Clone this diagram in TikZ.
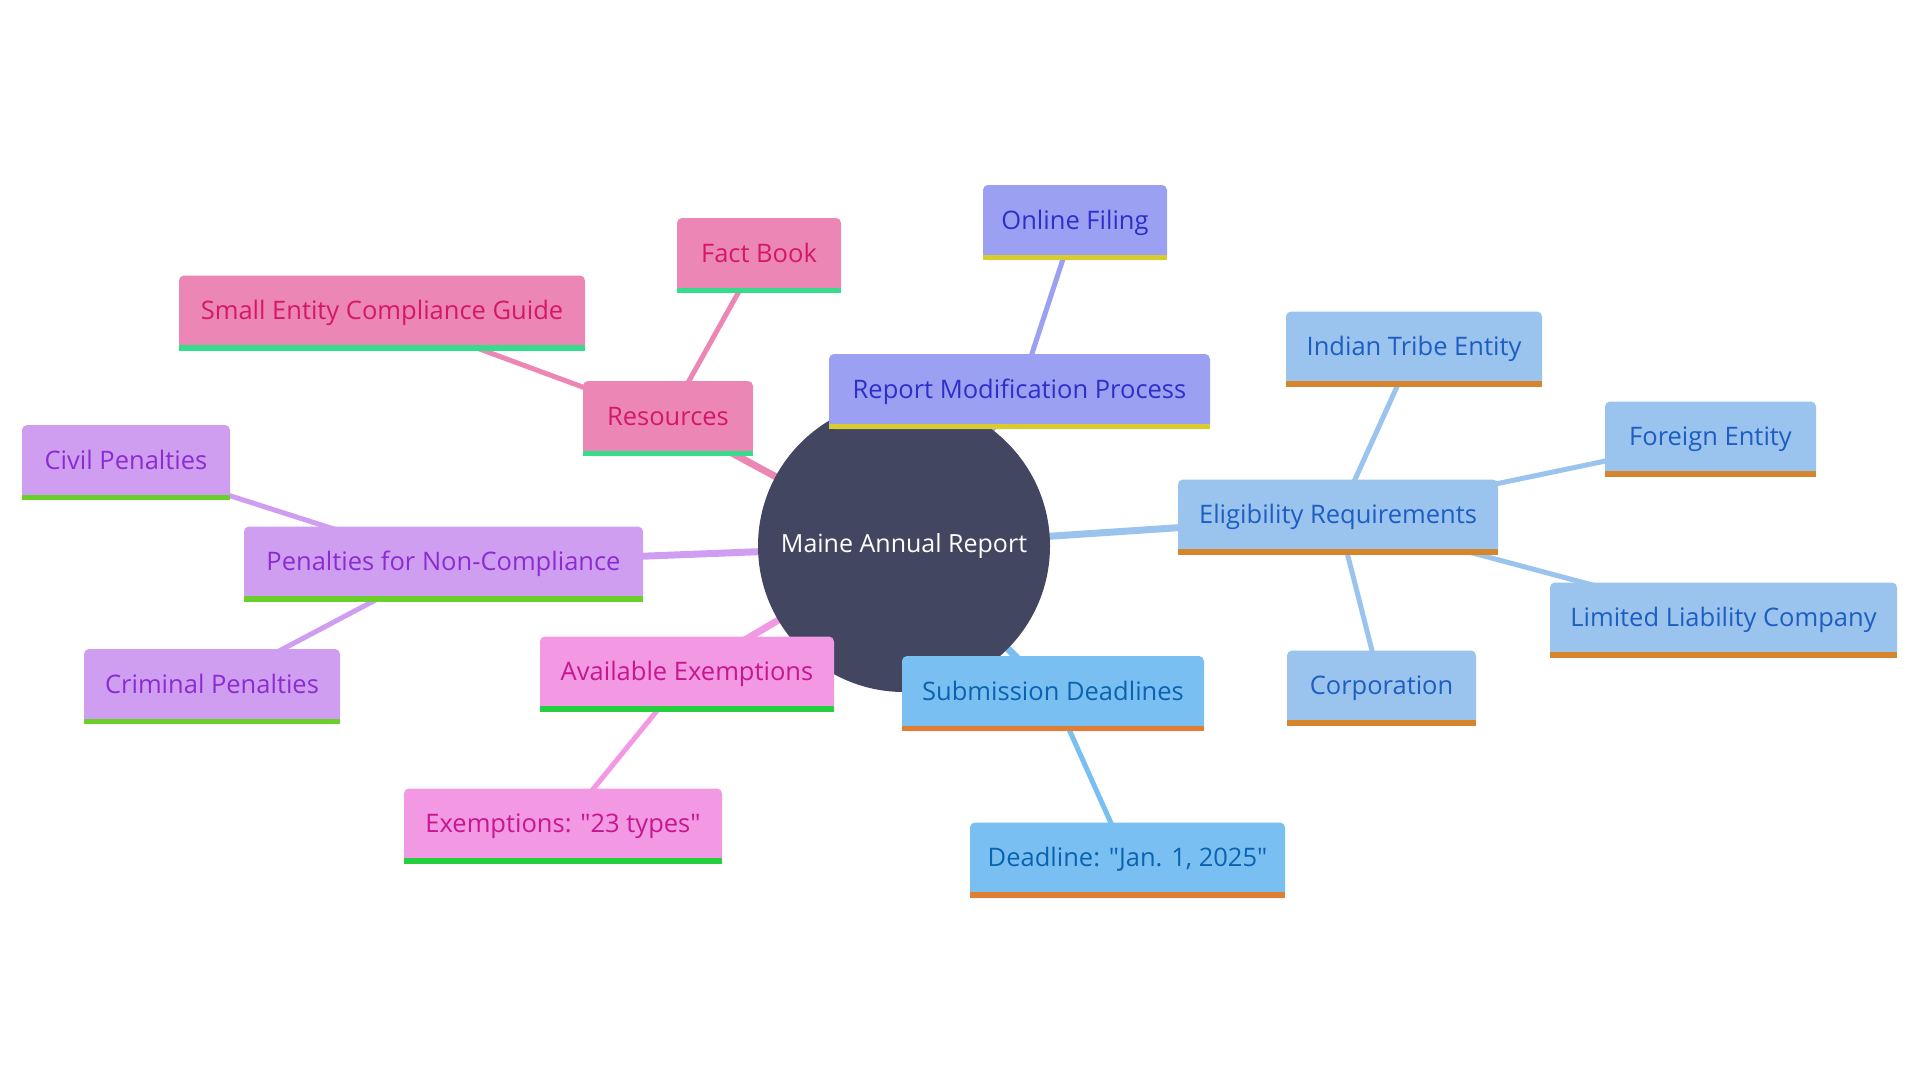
\documentclass[tikz,border=0pt]{standalone}
\usepackage{fontspec}
\setmainfont{Open Sans}[Ligatures=TeXOff]
\definecolor{centerc}{HTML}{424660}
\definecolor{pkF}{HTML}{EC87B5}\definecolor{pkT}{HTML}{D5176A}\definecolor{pkB}{HTML}{35DC8C}
\definecolor{rmF}{HTML}{9BA0F2}\definecolor{rmT}{HTML}{2C30C8}\definecolor{rmB}{HTML}{D8CD2A}
\definecolor{elF}{HTML}{9AC3EE}\definecolor{elT}{HTML}{1E5EC2}\definecolor{elB}{HTML}{D5852B}
\definecolor{sdF}{HTML}{7ABFF1}\definecolor{sdT}{HTML}{0B63B0}\definecolor{sdB}{HTML}{E07F33}
\definecolor{exF}{HTML}{F398E3}\definecolor{exT}{HTML}{C7168F}\definecolor{exB}{HTML}{24D03E}
\definecolor{peF}{HTML}{CF9EF1}\definecolor{peT}{HTML}{8B2CD3}\definecolor{peB}{HTML}{6BCF2A}
\tikzset{
  mmbox/.style={rectangle, rounded corners=5pt, minimum height=75pt, inner sep=0pt, font=\fontsize{25.5}{30}\selectfont, text height=18.5pt, text depth=5pt},
  lvA/.style={line width=7pt},
  lvB/.style={line width=5pt},
}
\newcommand\mmbar[2]{\fill[#2] ([yshift=5.5pt]#1.south west) rectangle (#1.south east);}
\begin{document}
\begin{tikzpicture}[x=1pt,y=-1pt]
\useasboundingbox (0,0) rectangle (1920,1080);
\coordinate (c) at (904,546);
\path
 (1075,222.5) coordinate (of)
 (1019.5,391.5) coordinate (rm)
 (759,255.5) coordinate (fb)
 (382,313) coordinate (se)
 (668,418.5) coordinate (rs)
 (126,462.5) coordinate (cp)
 (443.5,564) coordinate (pn)
 (212,686.5) coordinate (cr)
 (687,674) coordinate (ae)
 (563,826) coordinate (ex)
 (1053,693.5) coordinate (sd)
 (1127.5,860) coordinate (dl)
 (1338,517) coordinate (er)
 (1414,349) coordinate (it)
 (1710.5,439) coordinate (fe)
 (1723.5,620) coordinate (ll)
 (1381.5,688) coordinate (co);
% connectors
\draw[lvB, rmF] (rm) -- (of);
\draw[lvB, pkF] (rs) -- (fb);
\draw[lvB, pkF] (rs) -- (se);
\draw[lvB, peF] (pn) -- (cp);
\draw[lvB, peF] (pn) -- (cr);
\draw[lvB, exF] (ae) -- (ex);
\draw[lvB, sdF] (sd) -- (dl);
\draw[lvB, elF] (er) -- (it);
\draw[lvB, elF] (er) -- (fe);
\draw[lvB, elF] (er) -- (ll);
\draw[lvB, elF] (er) -- (co);
\draw[lvA, pkF] (c) -- (rs);
\draw[lvA, rmF] (c) -- (rm);
\draw[lvA, peF] (c) -- (pn);
\draw[lvA, exF] (c) -- (ae);
\draw[lvA, sdF] (c) -- (sd);
\draw[lvA, elF] (c) -- (er);
% center
\node[circle, fill=centerc, minimum size=292pt, inner sep=0pt, text=white, font=\fontsize{25}{30}\selectfont] (center) at (c) {Maine Annual Report};
% boxes
\node[mmbox, fill=rmF, text=rmT, minimum width=184pt] (nOF) at (of) {Online Filing}; \mmbar{nOF}{rmB}
\node[mmbox, fill=rmF, text=rmT, minimum width=381pt] (nRM) at (rm) {Report Modification Process}; \mmbar{nRM}{rmB}
\node[mmbox, fill=pkF, text=pkT, minimum width=164pt] (nFB) at (fb) {Fact Book}; \mmbar{nFB}{pkB}
\node[mmbox, fill=pkF, text=pkT, minimum width=406pt] (nSE) at (se) {Small Entity Compliance Guide}; \mmbar{nSE}{pkB}
\node[mmbox, fill=pkF, text=pkT, minimum width=170pt] (nRS) at (rs) {Resources}; \mmbar{nRS}{pkB}
\node[mmbox, fill=peF, text=peT, minimum width=208pt] (nCP) at (cp) {Civil Penalties}; \mmbar{nCP}{peB}
\node[mmbox, fill=peF, text=peT, minimum width=399pt] (nPN) at (pn) {Penalties for Non-Compliance}; \mmbar{nPN}{peB}
\node[mmbox, fill=peF, text=peT, minimum width=256pt] (nCR) at (cr) {Criminal Penalties}; \mmbar{nCR}{peB}
\node[mmbox, fill=exF, text=exT, minimum width=294pt] (nAE) at (ae) {Available Exemptions}; \mmbar{nAE}{exB}
\node[mmbox, fill=exF, text=exT, minimum width=318pt] (nEX) at (ex) {Exemptions: "23 types"}; \mmbar{nEX}{exB}
\node[mmbox, fill=sdF, text=sdT, minimum width=302pt] (nSD) at (sd) {Submission Deadlines}; \mmbar{nSD}{sdB}
\node[mmbox, fill=sdF, text=sdT, minimum width=315pt] (nDL) at (dl) {Deadline: "Jan. 1, 2025"}; \mmbar{nDL}{sdB}
\node[mmbox, fill=elF, text=elT, minimum width=320pt] (nER) at (er) {Eligibility Requirements}; \mmbar{nER}{elB}
\node[mmbox, fill=elF, text=elT, minimum width=256pt] (nIT) at (it) {Indian Tribe Entity}; \mmbar{nIT}{elB}
\node[mmbox, fill=elF, text=elT, minimum width=211pt] (nFE) at (fe) {Foreign Entity}; \mmbar{nFE}{elB}
\node[mmbox, fill=elF, text=elT, minimum width=347pt] (nLL) at (ll) {Limited Liability Company}; \mmbar{nLL}{elB}
\node[mmbox, fill=elF, text=elT, minimum width=189pt] (nCO) at (co) {Corporation}; \mmbar{nCO}{elB}
\end{tikzpicture}
\end{document}
